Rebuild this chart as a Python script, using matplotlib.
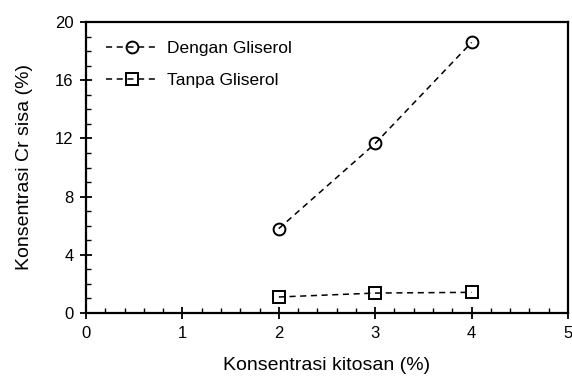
import matplotlib
matplotlib.use("Agg")
import matplotlib.pyplot as plt
from matplotlib.ticker import MultipleLocator

plt.rcParams['font.family'] = ['Liberation Sans', 'DejaVu Sans']

kitosan = [2, 3, 4]
dengan_gliserol = [5.8, 11.65, 18.6]
tanpa_gliserol = [1.1, 1.37, 1.42]

fig = plt.figure(figsize=(5.72, 3.76), dpi=100)
ax = fig.add_axes([86 / 572, 1 - 313 / 376, (568 - 86) / 572, (313 - 22) / 376])

ax.plot(kitosan, dengan_gliserol, 'k--', marker='o', mfc='none', mec='black',
        ms=8.5, mew=1.4, lw=1.1, dashes=(4, 3), label='Dengan Gliserol')
ax.plot(kitosan, tanpa_gliserol, 'k--', marker='s', mfc='none', mec='black',
        ms=8.5, mew=1.4, lw=1.1, dashes=(4, 3), label='Tanpa Gliserol')

ax.set_xlim(0, 5)
ax.set_ylim(0, 20)
ax.xaxis.set_major_locator(MultipleLocator(1))
ax.xaxis.set_minor_locator(MultipleLocator(0.2))
ax.yaxis.set_major_locator(MultipleLocator(4))
ax.yaxis.set_minor_locator(MultipleLocator(1))
ax.tick_params(which='major', direction='inout', length=8, width=1.3,
               labelsize=12, pad=5)
ax.tick_params(which='minor', direction='in', length=3.5, width=1)
for s in ax.spines.values():
    s.set_linewidth(1.6)

ax.set_xlabel('Konsentrasi kitosan (%)', fontsize=14, labelpad=12)
ax.set_ylabel('Konsentrasi Cr sisa (%)', fontsize=14, labelpad=16)
ax.legend(loc='upper left', frameon=False, fontsize=12.5, handlelength=3.0,
          handletextpad=0.5, labelspacing=1.0, bbox_to_anchor=(0.01, 0.99))

fig.savefig('out.png', dpi=100)
